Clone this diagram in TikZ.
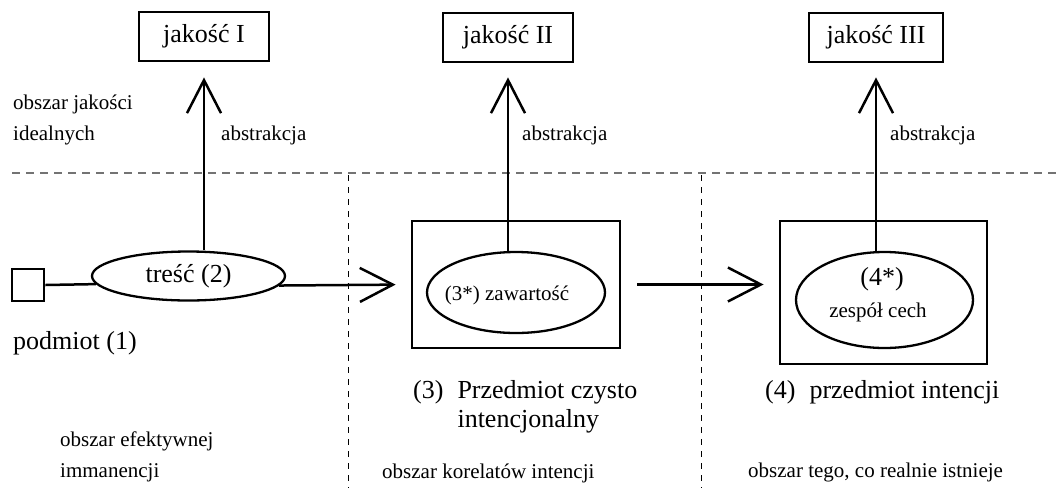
\documentclass[tikz,border=0pt]{standalone}
\usepackage{fontspec}
\setmainfont{Liberation Serif}
\usetikzlibrary{arrows.meta,shapes.geometric}
\newcommand{\bigf}{\fontsize{26}{29}\selectfont}
\newcommand{\smallf}{\fontsize{21}{31}\selectfont}
\tikzset{
  qbox/.style={draw, line width=2.8pt, minimum width=130pt, minimum height=49pt, inner sep=0pt, font=\bigf},
  obox/.style={draw, line width=2.8pt, inner sep=0pt},
  oval/.style={draw, ellipse, line width=2.3pt, fill=white, inner sep=0pt},
  lbl/.style={inner sep=0pt, anchor=west, align=left},
  conn/.style={line width=2.5pt},
  arr/.style={line width=2.5pt, -{Straight Barb[length=33pt, width=34pt, line width=2.5pt]}},
  hdash/.style={draw=black!55, line width=1.3pt, dash pattern=on 8pt off 6pt},
  vdash/.style={draw=black, line width=0.9pt, dash pattern=on 6pt off 6pt},
}
\begin{document}
\begin{tikzpicture}[x=1pt,y=-1pt]
\useasboundingbox (0,0) rectangle (1056,488);
% region separators
\coordinate (hl) at (12,173);
\coordinate (hr) at (1056,173);
\coordinate (v1t) at (348,175);
\coordinate (v1b) at (348,488);
\coordinate (v2t) at (701,175);
\coordinate (v2b) at (701,488);
\draw[hdash] (hl) -- (hr);
\draw[vdash] (v1t) -- (v1b);
\draw[vdash] (v2t) -- (v2b);
% quality boxes
\node[qbox] (j1) at (204,36.5) {jakość I};
\node[qbox] (j2) at (508,37.5) {jakość II};
\node[qbox, minimum width=134pt] (j3) at (876,37.5) {jakość III};
% subject and content
\node[obox, minimum width=32pt, minimum height=32pt] (sq) at (28,285) {};
\node[oval, minimum width=193pt, minimum height=49pt, font=\bigf] (t) at (188.5,276) {treść (2)};
% object 3
\node[obox, minimum width=208pt, minimum height=127pt] (b3) at (516,284.5) {};
\node[oval, minimum width=178pt, minimum height=81pt] (e3) at (516,292.5) {};
\node[inner sep=0pt, font=\smallf] (e3t) at (507,295) {(3*) zawartość};
% object 4
\node[obox, minimum width=207pt, minimum height=143pt] (b4) at (883.5,292.5) {};
\node[oval, minimum width=177pt, minimum height=96pt] (e4) at (884.5,300) {};
\node[inner sep=0pt, font=\bigf] (e4a) at (882,279) {(4*)};
\node[inner sep=0pt, font=\smallf] (e4b) at (878,312) {zespół cech};
% connectors
\draw[conn] (sq.east) -- (t.185.7);
\draw[arr, shorten >=15pt] (t.354.3) -- (b3.west);
\draw[arr, shorten <=16pt, shorten >=15pt] (b3.east) -- (b3.east -| b4.west);
\draw[arr, shorten >=15pt] (j1.south |- t.north) -- (j1.south);
\draw[arr, shorten >=14pt] (j2.south |- e3.north) -- (j2.south);
\draw[arr, shorten >=14pt] (j3.south |- e4.north) -- (j3.south);
% labels
\node[lbl, font=\smallf] (la) at (13,119.5) {obszar jakości\\idealnych};
\node[lbl, font=\smallf] (ab1) at (221,135) {abstrakcja};
\node[lbl, font=\smallf] (ab2) at (522,135) {abstrakcja};
\node[lbl, font=\smallf] (ab3) at (890,135) {abstrakcja};
\node[lbl, font=\bigf] (pod) at (13,343) {podmiot (1)};
\node[lbl, font=\smallf] (lef) at (60,457) {obszar efektywnej\\immanencji};
\node[lbl, font=\bigf] (p3) at (413,407.5) {\begin{tabular}{@{}l@{\hspace{14pt}}l@{}}(3) & Przedmiot czysto\\ & intencjonalny\end{tabular}};
\node[lbl, font=\smallf] (lko) at (382,473) {obszar korelatów intencji};
\node[lbl, font=\bigf] (p4) at (765,392) {(4)\hspace{14pt}przedmiot intencji};
\node[lbl, font=\smallf] (lre) at (748,472) {obszar tego, co realnie istnieje};
\end{tikzpicture}
\end{document}
